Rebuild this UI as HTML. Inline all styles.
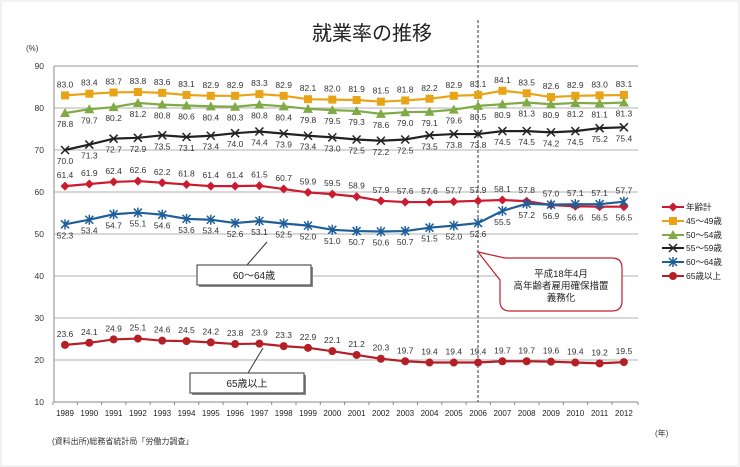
<!DOCTYPE html>
<html><head><meta charset="utf-8"><style>
html,body{margin:0;padding:0;background:#fff;}
svg{display:block;font-family:"Liberation Sans","Noto Sans CJK JP",sans-serif;}
</style></head><body>
<svg id="c" width="740" height="467" viewBox="0 0 740 467" xmlns="http://www.w3.org/2000/svg">
<rect x="1" y="1" width="738" height="465" fill="#fff" stroke="#e4e4e4"/>
<text x="372" y="40" font-size="20" text-anchor="middle" fill="#222" font-family="'Noto Sans CJK JP',sans-serif">就業率の推移</text>
<text x="26" y="51" font-size="8" fill="#333">(%)</text>
<g id="grid" stroke="#b0b0b0" stroke-width="1"></g>
<g font-size="8.5" fill="#333" text-anchor="end" id="ylab"></g>
<line x1="54" y1="66" x2="54" y2="402" stroke="#888"/>
<line x1="54" y1="402" x2="638" y2="402" stroke="#888"/>
<g id="xt" stroke="#888"></g>
<g font-size="8" fill="#222" text-anchor="middle" id="xl">
<text>1989</text><text>1990</text><text>1991</text><text>1992</text><text>1993</text><text>1994</text><text>1995</text><text>1996</text><text>1997</text><text>1998</text><text>1999</text><text>2000</text><text>2001</text><text>2002</text><text>2003</text><text>2004</text><text>2005</text><text>2006</text><text>2007</text><text>2008</text><text>2009</text><text>2010</text><text>2011</text><text>2012</text>
</g>
<line x1="478" y1="20" x2="478" y2="402" stroke="#333" stroke-dasharray="3,2" stroke-width="1"/>
<text x="655" y="436" font-size="8" fill="#333">(年)</text>
<text x="52" y="444" font-size="8" fill="#333">(資料出所)総務省統計局「労働力調査」</text>

<g id="series"></g>

<g font-size="8.5" fill="#333" text-anchor="middle">
<g id="l45">83.0 83.4 83.7 83.8 83.6 83.1 82.9 82.9 83.3 82.9 82.1 82.0 81.9 81.5 81.8 82.2 82.9 83.1 84.1 83.5 82.6 82.9 83.0 83.1</g>
<g id="l50">78.8 79.7 80.2 81.2 80.8 80.6 80.4 80.3 80.8 80.4 79.8 79.5 79.3 78.6 79.0 79.1 79.6 80.5 80.9 81.3 80.9 81.2 81.1 81.3</g>
<g id="l55">70.0 71.3 72.7 72.9 73.5 73.1 73.4 74.0 74.4 73.9 73.4 73.0 72.5 72.2 72.5 73.5 73.8 73.8 74.5 74.5 74.2 74.5 75.2 75.4</g>
<g id="ltot">61.4 61.9 62.4 62.6 62.2 61.8 61.4 61.4 61.5 60.7 59.9 59.5 58.9 57.9 57.6 57.6 57.7 57.9 58.1 57.8 56.9 56.6 56.5 56.5</g>
<g id="l60">52.3 53.4 54.7 55.1 54.6 53.6 53.4 52.6 53.1 52.5 52.0 51.0 50.7 50.6 50.7 51.5 52.0 52.6 55.5 57.2 57.0 57.1 57.1 57.7</g>
<g id="l65">23.6 24.1 24.9 25.1 24.6 24.5 24.2 23.8 23.9 23.3 22.9 22.1 21.2 20.3 19.7 19.4 19.4 19.4 19.7 19.7 19.6 19.4 19.2 19.5</g>
</g>

<!-- annotation boxes -->
<line x1="247" y1="265" x2="267" y2="242" stroke="#333"/>
<rect x="199" y="267" width="114" height="20" fill="#888"/>
<rect x="197" y="265" width="114" height="20" fill="#fff" stroke="#555" stroke-width="1.2"/>
<text x="254" y="279" font-size="10" text-anchor="middle" fill="#222">60〜64歳</text>
<line x1="248" y1="373" x2="263" y2="348" stroke="#333"/>
<rect x="192" y="375" width="114" height="20" fill="#888"/>
<rect x="190" y="373" width="114" height="20" fill="#fff" stroke="#555" stroke-width="1.2"/>
<text x="247" y="387" font-size="10" text-anchor="middle" fill="#222">65歳以上</text>

<path d="M510,258 H612 Q622,258 622,268 V301 Q622,311 612,311 H510 Q500,311 500,301 V280 L478,252 L505,258 Z" fill="#fff" stroke="#c0202a" stroke-width="1.2"/>
<g font-size="9.5" text-anchor="middle" fill="#222">
<text x="561" y="277">平成18年4月</text>
<text x="561" y="289">高年齢者雇用確保措置</text>
<text x="561" y="301">義務化</text>
</g>

<g font-size="8.5" fill="#222" id="leg">
<text x="686" y="210">年齢計</text>
<text x="686" y="224">45〜49歳</text>
<text x="686" y="238">50〜54歳</text>
<text x="686" y="251">55〜59歳</text>
<text x="686" y="265">60〜64歳</text>
<text x="686" y="279">65歳以上</text>
</g>
<g id="legm"></g>
</svg>
<script>
(function(){
var NS="http://www.w3.org/2000/svg";
function el(n,a,p){var e=document.createElementNS(NS,n);for(var k in a)e.setAttribute(k,a[k]);(p||document.getElementById('series')).appendChild(e);return e;}
function X(i){return 65+24.3*i;}
function Y(v){return 66+(90-v)*4.2;}
var grid=document.getElementById('grid'),yl=document.getElementById('ylab'),xt=document.getElementById('xt');
for(var v=10;v<=90;v+=10){ if(v>10&&v<90) el('line',{x1:54,x2:638,y1:Y(v),y2:Y(v)},grid); if(v==90) el('line',{x1:54,x2:638,y1:Y(v),y2:Y(v),stroke:'#999'},grid);
 var t=el('text',{x:44,y:Y(v)+3},yl);t.textContent=v;}
var xls=document.getElementById('xl').children;
for(var i=0;i<24;i++){xls[i].setAttribute('x',X(i));xls[i].setAttribute('y',416);el('line',{x1:X(i)-12,x2:X(i)-12,y1:402,y2:405},xt);}
el('line',{x1:638,x2:638,y1:402,y2:405},xt);
function marker(type,x,y,c,p){
 if(type=='sq')el('rect',{x:x-4,y:y-4,width:8,height:8,fill:c},p);
 else if(type=='tri')el('path',{d:'M'+x+','+(y-5)+'L'+(x+5)+','+(y+4)+'L'+(x-5)+','+(y+4)+'Z',fill:c},p);
 else if(type=='dia')el('path',{d:'M'+x+','+(y-4.5)+'L'+(x+4.5)+','+y+'L'+x+','+(y+4.5)+'L'+(x-4.5)+','+y+'Z',fill:c},p);
 else if(type=='cir')el('circle',{cx:x,cy:y,r:4,fill:c},p);
 else if(type=='x')el('path',{d:'M'+(x-4)+','+(y-4)+'L'+(x+4)+','+(y+4)+'M'+(x-4)+','+(y+4)+'L'+(x+4)+','+(y-4),stroke:c,'stroke-width':1.5},p);
 else if(type=='ast')el('path',{d:'M'+(x-4)+','+(y-4)+'L'+(x+4)+','+(y+4)+'M'+(x-4)+','+(y+4)+'L'+(x+4)+','+(y-4)+'M'+x+','+(y-5)+'L'+x+','+(y+5),stroke:c,'stroke-width':1.5},p);
}
var S=[['l45','#e8a317','sq',function(i){return -1}],
['l50','#7faa45','tri',function(i){return 1}],
['l55','#222','x',function(i){return 1}],
['ltot','#cc1a2e','dia',function(i){return i<20?-1:1}],
['l60','#1f5f99','ast',function(i){return i<20?1:-1}],
['l65','#b51f26','cir',function(i){return -1}]];
var order=[3,0,1,2,4,5];
S.forEach(function(s){
 var g=document.getElementById(s[0]);var vals=g.textContent.trim().split(/\s+/);g.textContent='';
 var pts=vals.map(function(v,i){return X(i)+','+Y(parseFloat(v));}).join(' ');
 el('polyline',{points:pts,fill:'none',stroke:s[1],'stroke-width':2.2});
 vals.forEach(function(v,i){marker(s[2],X(i),Y(parseFloat(v)),s[1]);
  var d=s[3](i);var t=el('text',{x:X(i),y:Y(parseFloat(v))+(d<0?-8:14)},g);t.textContent=v;});
});
var lm=document.getElementById('legm');
order.forEach(function(k,j){var s=S[k];var y=[207,221,235,248,262,276][j];
 el('line',{x1:662,x2:684,y1:y,y2:y,stroke:s[1],'stroke-width':2},lm);marker(s[2],673,y,s[1],lm);});
})();
</script>
</body></html>
